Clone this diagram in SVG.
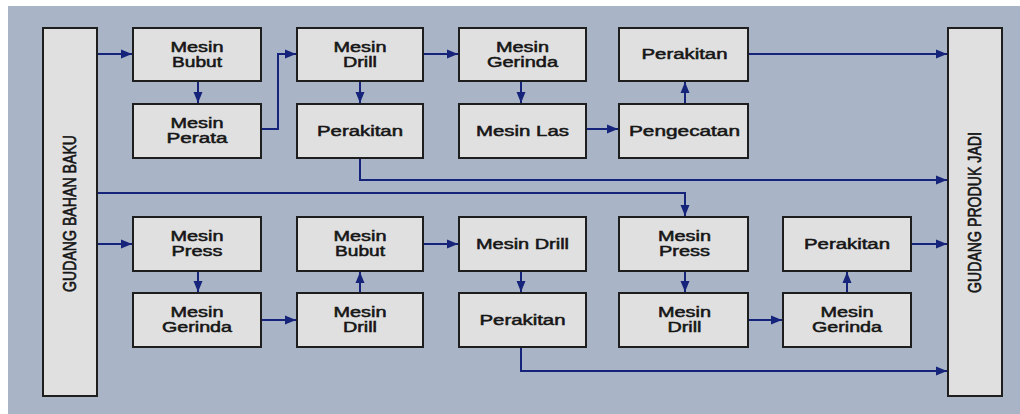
<svg xmlns="http://www.w3.org/2000/svg" width="1020" height="414" viewBox="0 0 1020 414">
<defs>
<marker id="ah" markerUnits="userSpaceOnUse" markerWidth="12" markerHeight="10" refX="11" refY="5" orient="auto">
<path d="M0,0.5 L11,5 L0,9.5 Z" fill="#16237a"/>
</marker>
<style>
.box{fill:#e0e0e0;stroke:#1e1e1e;stroke-width:2}
.t{font-family:"Liberation Sans",Arial,sans-serif;font-size:14px;fill:#161616;stroke:#161616;stroke-width:0.5;text-anchor:middle}
.c{fill:none;stroke:#16237a;stroke-width:2;marker-end:url(#ah)}
</style>
</defs>
<rect x="0" y="0" width="1020" height="414" fill="#ffffff"/>
<rect x="8" y="6" width="1012" height="408" fill="#a9b4c7"/>

<g id="gudang-bahan-baku">
<rect class="box" x="43" y="28" width="54" height="368"/>
<text class="t" transform="translate(70,213.5) rotate(-90) scale(1,1.25)" x="0" y="5" textLength="157" lengthAdjust="spacingAndGlyphs">GUDANG BAHAN BAKU</text>
</g>
<g id="gudang-produk-jadi">
<rect class="box" x="948" y="28" width="54" height="368"/>
<text class="t" transform="translate(975,212.5) rotate(-90) scale(1,1.25)" x="0" y="5" textLength="161" lengthAdjust="spacingAndGlyphs">GUDANG PRODUK JADI</text>
</g>

<g id="mesin-bubut-1">
<rect class="box" x="133" y="28" width="128" height="53"/>
<text class="t" x="197" y="52" textLength="53" lengthAdjust="spacingAndGlyphs">Mesin</text>
<text class="t" x="197" y="67" textLength="50" lengthAdjust="spacingAndGlyphs">Bubut</text>
</g>
<g id="mesin-perata">
<rect class="box" x="133" y="104" width="128" height="54"/>
<text class="t" x="197" y="128" textLength="53" lengthAdjust="spacingAndGlyphs">Mesin</text>
<text class="t" x="197" y="143" textLength="61" lengthAdjust="spacingAndGlyphs">Perata</text>
</g>
<g id="mesin-drill-1">
<rect class="box" x="297" y="28" width="126" height="53"/>
<text class="t" x="360" y="52" textLength="53" lengthAdjust="spacingAndGlyphs">Mesin</text>
<text class="t" x="360" y="67" textLength="34" lengthAdjust="spacingAndGlyphs">Drill</text>
</g>
<g id="perakitan-1">
<rect class="box" x="297" y="104" width="126" height="54"/>
<text class="t" x="360" y="136" textLength="86" lengthAdjust="spacingAndGlyphs">Perakitan</text>
</g>
<g id="mesin-gerinda-1">
<rect class="box" x="459" y="28" width="127" height="53"/>
<text class="t" x="522.5" y="52" textLength="53" lengthAdjust="spacingAndGlyphs">Mesin</text>
<text class="t" x="522.5" y="67" textLength="71" lengthAdjust="spacingAndGlyphs">Gerinda</text>
</g>
<g id="mesin-las">
<rect class="box" x="459" y="104" width="127" height="54"/>
<text class="t" x="522.5" y="136" textLength="93" lengthAdjust="spacingAndGlyphs">Mesin Las</text>
</g>
<g id="perakitan-2">
<rect class="box" x="619" y="28" width="129" height="53"/>
<text class="t" x="684.5" y="59" textLength="86" lengthAdjust="spacingAndGlyphs">Perakitan</text>
</g>
<g id="pengecatan">
<rect class="box" x="619" y="104" width="129" height="54"/>
<text class="t" x="684.5" y="136" textLength="111" lengthAdjust="spacingAndGlyphs">Pengecatan</text>
</g>

<g id="mesin-press-1">
<rect class="box" x="133" y="217" width="128" height="54"/>
<text class="t" x="197" y="241" textLength="53" lengthAdjust="spacingAndGlyphs">Mesin</text>
<text class="t" x="197" y="256" textLength="51" lengthAdjust="spacingAndGlyphs">Press</text>
</g>
<g id="mesin-gerinda-2">
<rect class="box" x="133" y="293" width="128" height="54"/>
<text class="t" x="197" y="317" textLength="53" lengthAdjust="spacingAndGlyphs">Mesin</text>
<text class="t" x="197" y="332" textLength="70" lengthAdjust="spacingAndGlyphs">Gerinda</text>
</g>
<g id="mesin-bubut-2">
<rect class="box" x="297" y="217" width="126" height="54"/>
<text class="t" x="360" y="241" textLength="53" lengthAdjust="spacingAndGlyphs">Mesin</text>
<text class="t" x="360" y="256" textLength="50" lengthAdjust="spacingAndGlyphs">Bubut</text>
</g>
<g id="mesin-drill-2">
<rect class="box" x="297" y="293" width="126" height="54"/>
<text class="t" x="360" y="317" textLength="53" lengthAdjust="spacingAndGlyphs">Mesin</text>
<text class="t" x="360" y="332" textLength="34" lengthAdjust="spacingAndGlyphs">Drill</text>
</g>
<g id="mesin-drill-3">
<rect class="box" x="459" y="217" width="127" height="54"/>
<text class="t" x="522.5" y="249" textLength="93" lengthAdjust="spacingAndGlyphs">Mesin Drill</text>
</g>
<g id="perakitan-3">
<rect class="box" x="459" y="293" width="127" height="54"/>
<text class="t" x="522.5" y="325" textLength="86" lengthAdjust="spacingAndGlyphs">Perakitan</text>
</g>
<g id="mesin-press-2">
<rect class="box" x="619" y="217" width="129" height="54"/>
<text class="t" x="684.5" y="241" textLength="53" lengthAdjust="spacingAndGlyphs">Mesin</text>
<text class="t" x="684.5" y="256" textLength="51" lengthAdjust="spacingAndGlyphs">Press</text>
</g>
<g id="mesin-drill-4">
<rect class="box" x="619" y="293" width="129" height="54"/>
<text class="t" x="684.5" y="317" textLength="53" lengthAdjust="spacingAndGlyphs">Mesin</text>
<text class="t" x="684.5" y="332" textLength="34" lengthAdjust="spacingAndGlyphs">Drill</text>
</g>
<g id="perakitan-4">
<rect class="box" x="783" y="217" width="128" height="54"/>
<text class="t" x="847" y="249" textLength="86" lengthAdjust="spacingAndGlyphs">Perakitan</text>
</g>
<g id="mesin-gerinda-3">
<rect class="box" x="783" y="293" width="128" height="54"/>
<text class="t" x="847" y="317" textLength="53" lengthAdjust="spacingAndGlyphs">Mesin</text>
<text class="t" x="847" y="332" textLength="70" lengthAdjust="spacingAndGlyphs">Gerinda</text>
</g>

<g id="connectors">
<path class="c" d="M98,54 H132"/>
<path class="c" d="M198,82 V103"/>
<path class="c" d="M262,129 H278 V54 H296"/>
<path class="c" d="M424,54 H458"/>
<path class="c" d="M360,82 V103"/>
<path class="c" d="M521,82 V103"/>
<path class="c" d="M587,129 H618"/>
<path class="c" d="M685,103 V82"/>
<path class="c" d="M749,54 H947"/>
<path class="c" d="M360,159 V180 H947"/>
<path class="c" d="M98,193 H685 V216"/>
<path class="c" d="M98,244 H132"/>
<path class="c" d="M198,272 V292"/>
<path class="c" d="M262,320 H296"/>
<path class="c" d="M360,292 V272"/>
<path class="c" d="M424,244 H458"/>
<path class="c" d="M521,272 V292"/>
<path class="c" d="M521,348 V371 H947"/>
<path class="c" d="M685,272 V292"/>
<path class="c" d="M749,320 H782"/>
<path class="c" d="M847,292 V272"/>
<path class="c" d="M912,244 H947"/>
</g>
</svg>
